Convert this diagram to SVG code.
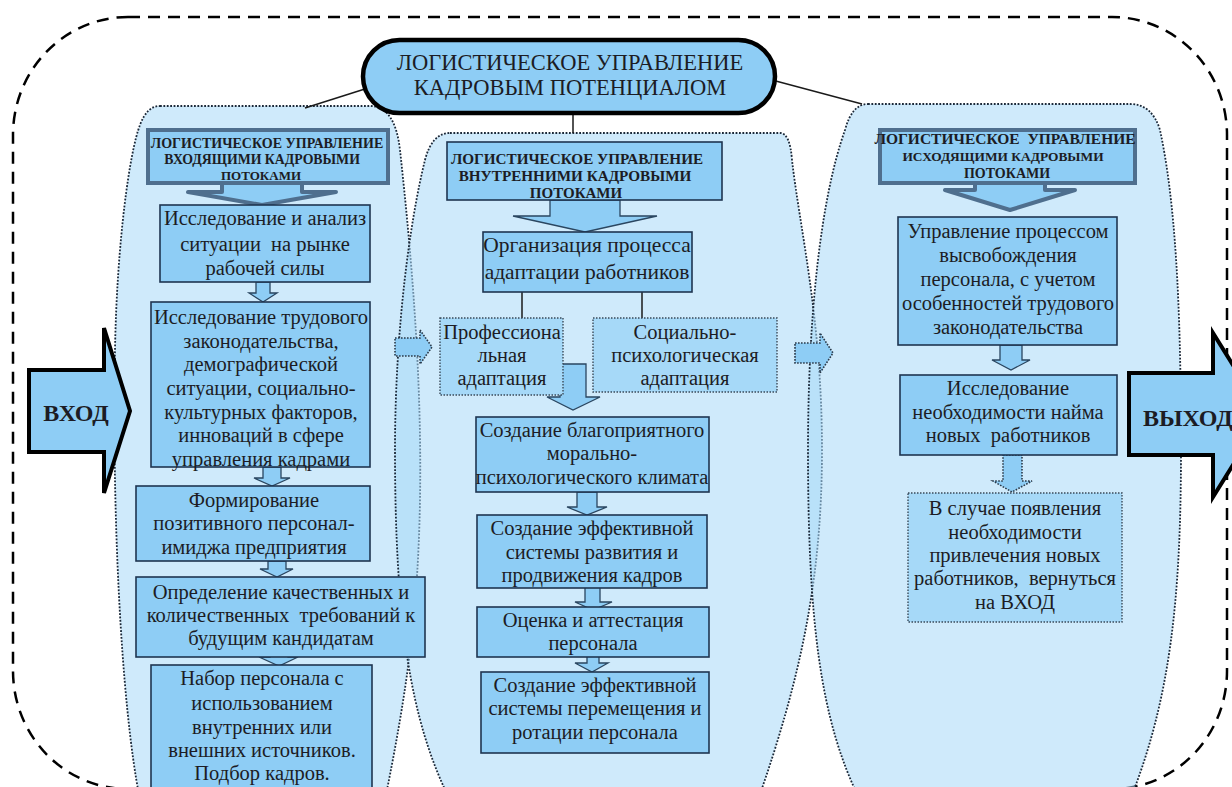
<svg xmlns="http://www.w3.org/2000/svg" width="1232" height="787" viewBox="0 0 1232 787" font-family="'Liberation Serif', 'Times New Roman', 'DejaVu Serif', serif">
<style>
.col{fill:#a8d8f8;fill-opacity:0.55;stroke:#1b2838;stroke-width:1.8;stroke-dasharray:1.8 1.6}
.box{fill:#8ecdf5;stroke:#1f3550;stroke-width:1.6}
.dbox{fill:#a6d9f8;stroke:#3a4a5a;stroke-width:1.4;stroke-dasharray:1.5 1.5}
.hdr{fill:#8ecdf5;stroke:#4f6f8e;stroke-width:4}
.harrow{fill:#8ecdf5;stroke:#4f6f8e;stroke-width:4;stroke-linejoin:round}
.arr{fill:#8ecdf5;stroke:#2a4660;stroke-width:1.3}
.darr{fill:#8ecdf5;stroke:#2a3a4a;stroke-width:1.6;stroke-dasharray:1.6 1.4}
.big{fill:#8ecdf5;stroke:#000;stroke-width:4;stroke-linejoin:miter}
.ln{stroke:#1a1a1a;stroke-width:1.5;fill:none}
text{font-family:'Liberation Serif','Times New Roman','DejaVu Serif',serif}
.t{font-size:20.5px;fill:#1c1c24;text-anchor:middle}
.hb{font-weight:bold;fill:#1c1c24;text-anchor:middle}
</style>
<rect width="1232" height="787" fill="#fff"/>
<rect x="13" y="17" width="1214" height="772" rx="115" ry="118" fill="none" stroke="#000" stroke-width="2.5" stroke-dasharray="12 8"/>

<g id="columns">
<path class="col" d="M160 106 H370 Q395 106 400 150 C412 260 422 380 420 500 C418 620 405 700 385 800 L140 800 C120 700 112 500 115 350 C117 240 130 150 140 125 Q147 106 160 106 Z"/>
<path class="col" d="M450 133 H780 Q790 133 792 160 C800 230 822 320 822 450 C822 580 800 680 758 800 L450 800 C410 720 395 620 395 450 C395 330 410 220 425 160 Q432 133 450 133 Z"/>
<path class="col" d="M868 104 H1130 Q1152 104 1160 130 C1175 200 1181 300 1181 450 C1181 600 1170 700 1130 800 L860 800 C820 720 808 620 808 450 C808 320 820 200 845 130 Q852 104 868 104 Z"/>
</g>

<g id="connectors">
<line class="ln" x1="368" y1="88" x2="305" y2="108"/>
<line class="ln" x1="573" y1="113" x2="573" y2="133"/>
<line class="ln" x1="772" y1="80" x2="862" y2="104"/>
<line class="ln" x1="522" y1="292" x2="522" y2="318"/>
<line class="ln" x1="642" y1="292" x2="642" y2="318"/>
<polygon class="harrow" points="222,183 302,183 302,192 336,192 262,205 188,192 222,192"/>
<polygon class="arr" points="550,200 620,200 620,216 657,216 585,232 513,216 550,216"/>
<polygon class="harrow" points="975,183 1045,183 1045,190 1075,190 1010,210 945,190 975,190"/>
<polygon class="arr" points="256,282 270,282 270,293 277,293 263,302 249,293 256,293"/>
<polygon class="arr" points="263,467 281,467 281,478 290,478 272,486 254,478 263,478"/>
<polygon class="arr" points="268,561 286,561 286,569 293,569 277,577 260,569 268,569"/>
<polygon class="arr" points="270,645 288,645 288,657 298,657 279,666 259,657 270,657"/>
<polygon class="arr" points="560,364 586,364 586,397 600,397 573,410 547,397 560,397"/>
<polygon class="arr" points="577,492 597,492 597,507 607,507 587,515 567,507 577,507"/>
<polygon class="arr" points="585,586 600,586 600,602 612,602 593,610 575,602 585,602"/>
<polygon class="arr" points="587,648 599,648 599,663 608,663 592,672 575,663 587,663"/>
<polygon class="arr" points="1000,345 1022,345 1022,360 1030,360 1011,370 992,360 1000,360"/>
<polygon class="darr" points="1003,455 1022,455 1022,481 1032,481 1012,492 993,481 1003,481"/>
<polygon class="darr" points="395,338 420,338 420,330 432,347 420,364 420,356 395,356"/>
<polygon class="darr" points="795,343 820,343 820,333 833,353 820,373 820,363 795,363"/>
</g>

<g id="title">
<rect x="363" y="40" width="412" height="73" rx="36.5" fill="#8ecdf5" stroke="#000" stroke-width="4.5"/>
<text class="t" x="570" y="70" style="font-size:22.5px">ЛОГИСТИЧЕСКОЕ УПРАВЛЕНИЕ</text>
<text class="t" x="570" y="95" style="font-size:22.5px">КАДРОВЫМ ПОТЕНЦИАЛОМ</text>
</g>

<g id="vhod">
<polygon class="big" points="29,370 104,370 104,328 130,411 104,493 104,452 29,452"/>
<text class="hb" x="76" y="421" font-size="24">ВХОД</text>
</g>
<g id="vyhod">
<polygon class="big" points="1129,373 1213,373 1213,333 1264,415 1213,497 1213,455 1129,455"/>
<text class="hb" x="1143" y="426" font-size="24" style="text-anchor:start">ВЫХОД</text>
</g>

<g id="h1">
<rect class="hdr" x="148" y="130" width="240" height="53"/>
<text class="hb" x="267" y="148" font-size="14">ЛОГИСТИЧЕСКОЕ УПРАВЛЕНИЕ</text>
<text class="hb" x="262" y="164" font-size="13.8">ВХОДЯЩИМИ КАДРОВЫМИ</text>
<text class="hb" x="261" y="180" font-size="13">ПОТОКАМИ</text>
</g>
<g id="b1_1">
<rect class="box" x="160" y="205" width="210" height="77"/>
<text class="t" x="265" y="225">Исследование и анализ</text>
<text class="t" x="265" y="251" xml:space="preserve">ситуации  на рынке</text>
<text class="t" x="265" y="275">рабочей силы</text>
</g>
<g id="b1_2">
<rect class="box" x="151" y="302" width="219" height="165"/>
<text class="t" x="261" y="324">Исследование трудового</text>
<text class="t" x="261" y="348">законодательства,</text>
<text class="t" x="261" y="371">демографической</text>
<text class="t" x="261" y="395">ситуации, социально-</text>
<text class="t" x="261" y="419">культурных факторов,</text>
<text class="t" x="261" y="442">инноваций в сфере</text>
<text class="t" x="261" y="466">управления кадрами</text>
</g>
<g id="b1_3">
<rect class="box" x="136" y="486" width="234" height="75"/>
<text class="t" x="254" y="507">Формирование</text>
<text class="t" x="254" y="530">позитивного персонал-</text>
<text class="t" x="254" y="554">имиджа предприятия</text>
</g>
<g id="b1_4">
<rect class="box" x="136" y="577" width="289" height="80"/>
<text class="t" x="281" y="599">Определение качественных и</text>
<text class="t" x="281" y="622" xml:space="preserve">количественных  требований к</text>
<text class="t" x="281" y="645">будущим кандидатам</text>
</g>
<g id="b1_5">
<rect class="box" x="151" y="665" width="221" height="135"/>
<text class="t" x="262" y="685">Набор персонала с</text>
<text class="t" x="262" y="710">использованием</text>
<text class="t" x="262" y="734">внутренних или</text>
<text class="t" x="262" y="757">внешних источников.</text>
<text class="t" x="262" y="780">Подбор кадров.</text>
</g>

<g id="h2">
<rect class="box" x="447" y="142" width="275" height="58"/>
<text class="hb" x="577" y="164" font-size="15.2">ЛОГИСТИЧЕСКОЕ УПРАВЛЕНИЕ</text>
<text class="hb" x="575" y="181" font-size="15.2">ВНУТРЕННИМИ КАДРОВЫМИ</text>
<text class="hb" x="576" y="198" font-size="15">ПОТОКАМИ</text>
</g>
<g id="b2_1">
<rect class="box" x="483" y="232" width="209" height="60"/>
<text class="t" x="587" y="252" style="font-size:21.5px">Организация процесса</text>
<text class="t" x="587" y="279" style="font-size:21.5px">адаптации работников</text>
</g>
<g id="b2_2">
<rect class="dbox" x="440" y="318" width="123" height="77"/>
<text class="t" x="502" y="339">Профессиона</text>
<text class="t" x="502" y="362">льная</text>
<text class="t" x="502" y="385">адаптация</text>
</g>
<g id="b2_3">
<rect class="dbox" x="593" y="318" width="184" height="74"/>
<text class="t" x="685" y="339">Социально-</text>
<text class="t" x="685" y="362">психологическая</text>
<text class="t" x="685" y="385">адаптация</text>
</g>
<g id="b2_4">
<rect class="box" x="476" y="417" width="233" height="75"/>
<text class="t" x="592" y="437">Создание благоприятного</text>
<text class="t" x="592" y="460">морально-</text>
<text class="t" x="592" y="484">психологического климата</text>
</g>
<g id="b2_5">
<rect class="box" x="477" y="515" width="230" height="73"/>
<text class="t" x="592" y="535">Создание эффективной</text>
<text class="t" x="592" y="559">системы развития и</text>
<text class="t" x="592" y="582">продвижения кадров</text>
</g>
<g id="b2_6">
<rect class="box" x="477" y="607" width="232" height="50"/>
<text class="t" x="593" y="627">Оценка и аттестация</text>
<text class="t" x="593" y="650">персонала</text>
</g>
<g id="b2_7">
<rect class="box" x="481" y="672" width="228" height="81"/>
<text class="t" x="595" y="692">Создание эффективной</text>
<text class="t" x="595" y="715">системы перемещения и</text>
<text class="t" x="595" y="739">ротации персонала</text>
</g>

<g id="h3">
<rect class="hdr" x="880" y="130" width="255" height="53"/>
<text class="hb" x="1005" y="144" font-size="15.5" xml:space="preserve">ЛОГИСТИЧЕСКОЕ  УПРАВЛЕНИЕ</text>
<text class="hb" x="1003" y="161" font-size="13.4">ИСХОДЯЩИМИ КАДРОВЫМИ</text>
<text class="hb" x="1007" y="178" font-size="14">ПОТОКАМИ</text>
</g>
<g id="b3_1">
<rect class="box" x="898" y="217" width="219" height="128"/>
<text class="t" x="1008" y="238">Управление процессом</text>
<text class="t" x="1008" y="262">высвобождения</text>
<text class="t" x="1008" y="286">персонала, с учетом</text>
<text class="t" x="1008" y="310">особенностей трудового</text>
<text class="t" x="1008" y="334">законодательства</text>
</g>
<g id="b3_2">
<rect class="box" x="900" y="375" width="217" height="80"/>
<text class="t" x="1008" y="395">Исследование</text>
<text class="t" x="1008" y="419">необходимости найма</text>
<text class="t" x="1008" y="442" xml:space="preserve">новых  работников</text>
</g>
<g id="b3_3">
<rect class="dbox" x="908" y="493" width="214" height="129"/>
<text class="t" x="1015" y="515">В случае появления</text>
<text class="t" x="1015" y="539">необходимости</text>
<text class="t" x="1015" y="562">привлечения новых</text>
<text class="t" x="1015" y="585" xml:space="preserve">работников,  вернуться</text>
<text class="t" x="1015" y="609">на ВХОД</text>
</g>
</svg>
